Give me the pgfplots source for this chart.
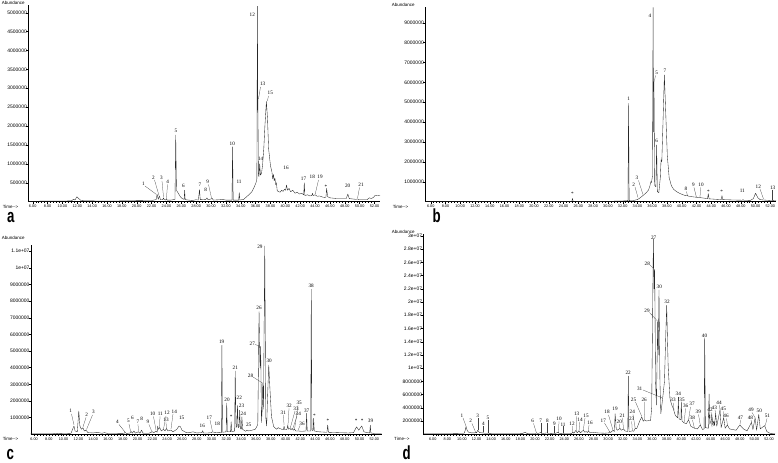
\documentclass[border=0pt]{standalone}
\usepackage{fontspec}
\setmainfont{Liberation Serif}
\newfontfamily\arial{Liberation Sans}
\usepackage{graphicx}
\usepackage{pgfplots}
\pgfplotsset{compat=1.18}

\pgfplotsset{
  chrom/.style={
    scale only axis, anchor=south west,
    axis x line=bottom, axis y line=left,
    axis line style={-, line width=0.4pt, black},
    xtick={6,8,...,52},
    minor x tick num=4,
    tick align=outside,
    major tick length=2bp, minor tick length=1.3bp,
    tick style={black, line width=0.3pt},
    xticklabel={\pgfmathprintnumber[fixed,fixed zerofill,precision=2,assume math mode=true]{\tick}},
    xticklabel style={font=\fontsize{3.8}{4}\arial, inner sep=1pt},
    yticklabel style={font=\fontsize{5}{5}\arial, inner sep=0.5pt, xshift=1.5bp},
    clip=false,
  },
  trace/.style={black!85, line width=0.35pt, line join=round},
}
\newcommand\pl[3]{\node[pl] at (#1,#2) {#3};}
\newcommand\ld[4]{\draw[ld] (#1,#2) -- (#3,#4);}

\begin{document}
\begin{tikzpicture}
\useasboundingbox (0,0) rectangle (778bp,463bp);

% ---- a ----
\begin{axis}[chrom, at={(28bp,261.4bp)}, width=352bp, height=196.6bp,
  xmin=5.37, xmax=52.74, ymin=0, ymax=5.204,
  ytick={0.5,1,...,5},
  yticklabels={500000,1000000,1500000,2000000,2500000,3000000,3500000,4000000,4500000,5000000}]
\addplot[trace] coordinates {
(5.37,0.01)(8,0.012)(10,0.015)(11.2,0.02)(11.5,0.06)(11.7,0.04)(11.95,0.13)(12.2,0.08)(12.5,0.03)(13,0.02)(16,0.015)(19,0.02)(20,0.025)(22,0.03)(22.6,0.05)(22.75,0.19)(22.9,0.06)(23.05,0.15)(23.2,0.05)(23.5,0.05)(23.6,0.1)(23.7,0.05)(23.9,0.04)(24.0,0.08)(24.1,0.04)(24.6,0.04)(25.15,0.06)(25.25,1.76)(25.35,0.3)(25.6,0.22)(25.9,0.12)(26.2,0.07)(26.38,0.06)(26.45,0.3)(26.52,0.05)(27.5,0.03)(28.0,0.05)(28.3,0.04)(28.45,0.32)(28.55,0.05)(29.3,0.06)(29.45,0.1)(29.6,0.05)(30.0,0.07)(30.15,0.09)(30.3,0.04)(31.2,0.05)(31.5,0.06)(32.0,0.04)(32.82,0.04)(32.9,1.45)(32.98,0.04)(33.72,0.04)(33.8,0.24)(33.88,0.04)(34.4,0.06)(34.8,0.13)(35.2,0.2)(35.5,0.26)(35.8,0.38)(36.05,0.5)(36.17,0.6)(36.24,5.17)(36.3,2.7)(36.38,0.7)(36.45,0.66)(36.55,1.0)(36.65,0.7)(36.8,0.75)(36.95,1.0)(37.1,1.4)(37.25,2.0)(37.45,2.65)(37.6,2.2)(37.75,1.4)(38.0,0.95)(38.2,0.78)(38.3,0.6)(38.4,0.72)(38.5,0.55)(38.6,0.62)(38.7,0.45)(38.8,0.5)(38.9,0.3)(39.0,0.27)(39.3,0.25)(39.5,0.3)(39.7,0.27)(39.9,0.33)(40.05,0.3)(40.15,0.44)(40.3,0.3)(40.5,0.35)(40.7,0.26)(41,0.3)(41.3,0.22)(41.6,0.25)(41.9,0.2)(42.2,0.22)(42.47,0.18)(42.55,0.5)(42.63,0.16)(43.0,0.18)(43.3,0.15)(43.57,0.16)(43.65,0.22)(43.75,0.16)(44.0,0.18)(44.3,0.14)(44.6,0.15)(45.0,0.12)(45.3,0.11)(45.47,0.12)(45.55,0.35)(45.7,0.13)(46.0,0.1)(47,0.08)(48.2,0.08)(48.4,0.2)(48.6,0.08)(49.5,0.06)(49.7,0.07)(49.9,0.05)(51.0,0.05)(51.3,0.1)(51.6,0.08)(51.9,0.12)(52.1,0.17)(52.4,0.16)(52.74,0.17)
};
\end{axis}

% ---- b ----
\begin{axis}[chrom, at={(425bp,261.4bp)}, width=351bp, height=194.6bp,
  xmin=5.23, xmax=52.77, ymin=0, ymax=9.79,
  ytick={1,...,9},
  yticklabels={1000000,2000000,3000000,4000000,5000000,6000000,7000000,8000000,9000000}]
\addplot[trace] coordinates {
(5.23,0.005)(25.0,0.01)(25.12,0.02)(25.2,0.16)(25.3,0.02)(26,0.01)(30,0.015)(32,0.03)(32.72,0.05)(32.8,4.94)(32.88,0.05)(33.5,0.06)(34.0,0.1)(34.4,0.2)(34.8,0.32)(35.2,0.45)(35.5,0.58)(35.7,0.8)(35.8,1.0)(35.9,0.95)(36.04,1.3)(36.12,9.77)(36.19,3.5)(36.24,6.03)(36.34,0.8)(36.5,0.75)(36.6,2.85)(36.7,0.5)(36.9,0.45)(37.1,1.2)(37.2,2.1)(37.3,2.0)(37.45,3.8)(37.65,6.37)(37.85,4.3)(38.05,2.3)(38.3,1.2)(38.6,0.8)(38.9,0.62)(39.3,0.5)(39.8,0.4)(40.5,0.3)(40.7,0.33)(40.85,0.28)(41.5,0.24)(42.0,0.22)(42.5,0.2)(43.5,0.15)(43.6,0.4)(43.7,0.14)(44.5,0.12)(45.35,0.1)(45.45,0.3)(45.55,0.1)(47,0.08)(48.2,0.07)(48.3,0.1)(48.4,0.07)(49.3,0.06)(49.7,0.15)(50.0,0.42)(50.3,0.2)(50.6,0.1)(51.1,0.08)(52.3,0.05)(52.77,0.04)
};
\end{axis}

% ---- c ----
\begin{axis}[chrom, at={(30.7bp,28.7bp)}, width=351bp, height=189.3bp,
  xmin=5.55, xmax=53.0, ymin=0, ymax=11.36,
  ytick={1,...,11},
  yticklabels={1000000,2000000,3000000,4000000,5000000,6000000,7000000,8000000,9000000,1e+07,1.1e+07}]
\addplot[trace] coordinates {
(5.55,0.03)(8.5,0.03)(9.1,0.06)(9.5,0.04)(10.4,0.05)(11.0,0.06)(11.3,0.4)(11.4,0.5)(11.55,0.2)(11.85,0.15)(12.05,1.4)(12.2,0.5)(12.4,0.3)(12.6,0.4)(12.8,0.2)(13.0,0.25)(13.3,0.1)(14,0.08)(14.5,0.12)(15.2,0.06)(15.5,0.1)(16,0.05)(17,0.05)(18.2,0.06)(18.3,0.12)(18.5,0.05)(19.0,0.08)(19.1,0.18)(19.3,0.07)(19.5,0.2)(19.7,0.07)(20.1,0.15)(20.3,0.06)(20.55,0.25)(20.7,0.07)(21.5,0.06)(22.0,0.15)(22.2,0.1)(22.5,0.2)(22.65,0.12)(22.72,0.5)(22.8,0.3)(23.0,0.4)(23.2,0.2)(23.5,0.3)(23.7,0.2)(23.9,0.35)(24.1,0.2)(24.5,0.25)(24.8,0.15)(25.3,0.3)(25.6,0.5)(25.8,0.45)(26.0,0.25)(26.5,0.12)(27.0,0.1)(27.5,0.15)(28.0,0.08)(28.7,0.1)(28.8,0.22)(28.9,0.08)(29.5,0.08)(30.0,0.1)(30.1,0.15)(30.5,0.1)(31.0,0.12)(31.32,0.1)(31.4,5.34)(31.48,0.12)(31.97,0.15)(32.05,1.88)(32.13,0.15)(32.57,0.15)(32.65,0.75)(32.73,0.15)(33.12,0.2)(33.2,3.8)(33.3,0.4)(33.42,0.5)(33.5,1.75)(33.6,0.4)(33.72,0.45)(33.8,1.45)(33.9,0.35)(34.02,0.3)(34.1,1.05)(34.2,0.3)(34.6,0.18)(34.8,0.25)(35.0,0.2)(35.5,0.25)(35.9,0.3)(36.1,0.45)(36.25,0.6)(36.42,7.36)(36.55,4.0)(36.64,5.25)(36.75,0.7)(36.85,1.5)(36.92,3.06)(37.02,1.5)(37.19,11.3)(37.33,1.0)(37.45,0.5)(37.55,2.0)(37.73,4.16)(37.9,2.66)(38.1,1.06)(38.4,0.46)(38.8,0.3)(39.0,0.4)(39.2,0.35)(39.5,0.3)(39.72,0.28)(39.8,0.5)(39.9,0.28)(40.2,0.3)(40.3,0.55)(40.4,0.3)(40.6,0.35)(40.75,0.28)(40.9,0.35)(41.05,0.25)(41.2,0.3)(41.4,0.2)(41.7,0.2)(42.2,0.18)(42.77,0.2)(42.85,1.26)(42.93,0.2)(43.4,0.2)(43.48,8.7)(43.56,0.25)(43.72,0.22)(43.8,0.96)(43.88,0.2)(44.5,0.15)(45.6,0.12)(45.7,0.56)(45.8,0.12)(47,0.1)(48.5,0.08)(49.2,0.1)(49.6,0.45)(49.9,0.25)(50.3,0.5)(50.6,0.15)(51.0,0.1)(51.38,0.08)(51.46,0.55)(51.54,0.08)(52.0,0.05)(53.0,0.05)
};
\end{axis}

% ---- d ----
\begin{axis}[chrom, at={(423.3bp,28.8bp)}, width=351.7bp, height=200.2bp,
  xmin=4.71, xmax=52.82, ymin=0, ymax=30.3,
  ytick={2,4,...,30},
  yticklabels={2000000,4000000,6000000,8000000,1e+07,1.2e+07,1.4e+07,1.6e+07,1.8e+07,2e+07,2.2e+07,2.4e+07,2.6e+07,2.8e+07,3e+07}]
\addplot[trace] coordinates {
(4.71,0.1)(8,0.1)(10.3,0.15)(10.45,0.6)(10.56,1.19)(10.7,0.6)(10.9,0.3)(11.3,0.2)(11.8,0.2)(11.9,0.3)(12.0,0.2)(12.15,0.6)(12.4,0.25)(12.8,0.18)(12.9,0.25)(13.0,0.15)(13.5,0.15)(13.6,0.2)(13.7,0.12)(16,0.1)(18.3,0.12)(18.6,0.3)(18.9,0.12)(20,0.1)(20.2,0.2)(20.4,0.1)(20.75,0.25)(20.9,0.1)(21.7,0.2)(21.8,0.1)(22.6,0.15)(22.7,0.1)(23.2,0.3)(23.3,0.1)(23.8,0.15)(23.9,0.1)(25.0,0.12)(25.15,0.3)(25.3,0.15)(25.6,0.6)(25.75,0.2)(26.0,0.5)(26.2,0.2)(26.6,0.6)(26.8,0.3)(27.0,0.4)(27.15,0.25)(27.3,0.5)(27.5,0.25)(27.8,0.3)(28.5,0.2)(29.5,0.15)(30.1,0.2)(30.2,0.4)(30.3,0.25)(30.7,0.6)(30.85,0.4)(30.95,3.1)(31.1,0.8)(31.3,0.6)(31.6,0.9)(31.8,0.6)(32.1,0.8)(32.3,0.5)(32.68,0.4)(32.76,8.8)(32.84,0.4)(33.3,0.5)(33.5,0.45)(33.7,0.9)(33.9,0.84)(34.35,2.1)(34.6,2.6)(34.8,1.95)(34.95,2.2)(35.2,2.0)(35.5,2.05)(35.8,2.1)(35.95,4)(36.18,29.6)(36.28,22.0)(36.36,24.8)(36.48,8)(36.6,4.4)(36.77,17)(36.85,12)(36.95,21.8)(37.08,8)(37.2,3.1)(37.45,5.4)(37.7,8)(37.85,14)(38.0,19.5)(38.2,10.4)(38.45,5.4)(38.7,4.4)(38.9,3.9)(39.0,3.5)(39.2,2.8)(39.5,2.5)(39.6,5.0)(39.7,2.3)(39.95,2.2)(40.0,4.9)(40.1,2.0)(40.4,1.7)(40.7,1.6)(41.0,2.2)(41.3,1.2)(41.8,0.9)(42.2,0.8)(42.6,1.4)(42.9,0.7)(43.12,0.8)(43.2,14.6)(43.3,1.0)(43.7,0.9)(43.8,6.1)(43.9,1.5)(44.2,2.5)(44.3,1.4)(44.45,2.0)(44.55,1.3)(44.7,3.2)(44.85,1.2)(45.3,3.7)(45.45,1.0)(45.8,2.5)(46.0,0.9)(46.3,1.4)(46.6,0.8)(47.5,0.6)(48.0,1.4)(48.5,0.8)(49.0,0.5)(49.6,1.8)(49.8,0.7)(50.1,2.5)(50.3,0.6)(50.6,3.0)(50.8,0.8)(51.4,1.3)(51.7,0.4)(52.2,0.1)(52.82,0.05)
};
\end{axis}

% ---- annotations, in picture pixels (y downward) ----
\begin{scope}[x=1bp,y=-1bp,yshift=463bp,
  pl/.style={font=\fontsize{5.2}{5.2}\selectfont, inner sep=0pt},
  ld/.style={line width=0.25pt, black!75},
  ax/.style={font=\fontsize{4.5}{4.5}\arial, inner sep=0pt, anchor=west},
  pn/.style={inner sep=0pt, anchor=base west}]
\node[ax] at (1.7,3) {Abundance};
\node[ax] at (391.7,4.5) {Abundance};
\node[ax] at (1.7,237.7) {Abundance};
\node[ax] at (391.7,231.6) {Abundance};
\node[ax] at (2.7,206.7) {Time-{}->};
\node[ax] at (392.7,206.7) {Time-{}->};
\node[ax] at (2.7,438.7) {Time-{}->};
\node[ax] at (394,438.7) {Time-{}->};
\node[pn] at (7,223) {\scalebox{0.7}[1]{\fontsize{19}{19}\arial\bfseries a}};
\node[pn] at (432.5,222.7) {\scalebox{0.7}[1]{\fontsize{19}{19}\arial\bfseries b}};
\node[pn] at (6.5,460) {\scalebox{0.7}[1]{\fontsize{19}{19}\arial\bfseries c}};
\node[pn] at (402.5,460) {\scalebox{0.7}[1]{\fontsize{19}{19}\arial\bfseries d}};

% a
\pl{143.3}{183.3}{1}\ld{145}{186}{156.5}{194.5}
\pl{153.3}{177.3}{2}\ld{154.5}{180}{159}{195.5}
\pl{161.3}{178.3}{3}\ld{162}{181}{163.5}{197}
\pl{167.7}{181.7}{4}\ld{167.5}{184.5}{166.5}{198}
\pl{176}{131}{5}
\pl{183.3}{185.7}{6}
\pl{200}{185}{7}
\pl{205.7}{189.8}{8}
\pl{207.7}{181.7}{9}\ld{208.5}{184.5}{211.5}{198}
\pl{232.3}{144.3}{10}
\pl{239}{181.7}{11}
\pl{252.3}{15}{12}
\pl{262.7}{84}{13}\ld{260.5}{87}{258.5}{99}
\pl{260.7}{159}{14}
\pl{270.3}{93.3}{15}\ld{268.5}{96}{267.3}{101}
\pl{286}{168.3}{16}
\pl{303.5}{179}{17}
\pl{312.3}{176.7}{18}
\pl{320}{177.3}{19}\ld{318.5}{180}{315.2}{194}
\pl{326}{187}{*}
\pl{347.7}{186.3}{20}
\pl{361}{184.8}{21}\ld{359.5}{187.5}{357.5}{198.5}

% b
\pl{572.3}{194.3}{*}
\pl{628.7}{99}{1}
\pl{633.7}{184.3}{2}\ld{635}{187}{638}{197.5}
\pl{637}{177.7}{3}\ld{638.5}{180.5}{643}{194.5}
\pl{650}{16}{4}
\pl{656.7}{72.7}{5}\ld{655.5}{75.5}{654.3}{81.5}
\pl{656.7}{141}{6}
\pl{665}{71}{7}
\pl{686}{189}{8}\ld{686.5}{191.5}{687.5}{196}
\pl{693.3}{185}{9}\ld{694}{187.5}{696.5}{197.5}
\pl{701}{185}{10}\ld{700.5}{187.5}{700}{197.5}
\pl{708.3}{191.7}{*}
\pl{721.7}{192.3}{*}
\pl{742.3}{190.7}{11}
\pl{758.3}{186.7}{12}\ld{760}{189}{763.5}{199}
\pl{772.7}{187.7}{13}\ld{772.5}{190}{772.5}{200}

% c
\pl{70.7}{411}{1}\ld{71.5}{414}{74}{425}
\pl{86.7}{414.7}{2}\ld{86}{417.5}{83}{427}
\pl{93.3}{412}{3}\ld{92.5}{415}{86.5}{429.5}
\pl{117.3}{422}{4}\ld{119}{424.5}{125}{432}
\pl{128.3}{421.3}{5}\ld{129}{424}{130.5}{431}
\pl{132.3}{417.7}{6}
\pl{138}{422}{7}\ld{138}{424.5}{138.5}{431.5}
\pl{141.7}{418.7}{8}
\pl{148}{422}{9}\ld{149}{424.5}{152}{432}
\pl{152.7}{413.7}{10}\ld{153.5}{416.5}{156}{430}
\pl{160.3}{413.7}{11}\ld{160}{416.5}{159.5}{428}
\pl{167}{413}{12}\ld{166}{416}{163.5}{429}
\pl{166}{420.3}{13}\ld{166}{422.5}{166.5}{429}
\pl{174.3}{411.3}{14}\ld{173}{414}{171}{429}
\pl{181.7}{417.7}{15}
\pl{202.3}{425.5}{16}
\pl{209.3}{417.3}{17}\ld{210}{420}{212.5}{431.5}
\pl{217.3}{423.5}{18}
\pl{221.7}{341.5}{19}
\pl{227}{400}{20}
\pl{231.2}{416.5}{*}
\pl{235.3}{367.5}{21}
\pl{239.3}{397.7}{22}
\pl{241.5}{406}{23}
\pl{243.3}{413.8}{24}
\pl{248.7}{424.5}{25}
\pl{259}{308}{26}
\pl{252.3}{344}{27}\ld{255}{344.5}{261}{346.5}
\pl{250.5}{376}{28}\ld{253}{377}{262.5}{383}
\pl{259.9}{246.5}{29}
\pl{269.2}{360.5}{30}
\pl{283.3}{412.7}{31}\ld{283.5}{415}{284}{425}
\pl{289.2}{405.8}{32}\ld{289}{408.5}{288}{425}
\pl{296}{408.5}{33}\ld{295}{411}{290}{429}
\pl{298.3}{413.8}{34}\ld{297}{416}{292.5}{429.5}
\pl{299.2}{403}{35}\ld{298}{405.5}{294.5}{429.5}
\pl{302}{423.7}{36}\ld{300}{425.5}{298}{430.5}
\pl{306.7}{410.8}{37}
\pl{311.2}{285.5}{38}
\pl{314.5}{415.5}{*}
\pl{328}{420.7}{*}
\pl{356.2}{420.7}{*}
\pl{362.2}{420.7}{*}
\pl{370.5}{421.3}{39}

% d
\pl{462}{415.3}{1}\ld{463}{418}{466}{426}
\pl{470.7}{421}{2}\ld{472}{423.5}{475.5}{432}
\pl{477.7}{416.3}{3}\ld{477.7}{418.5}{477.7}{430.5}
\pl{483.3}{423.7}{4}\ld{483.3}{426}{483.3}{432.5}
\pl{488}{417.7}{5}\ld{488}{420}{488}{433}
\pl{532.7}{421.3}{6}\ld{533.5}{423.5}{536.5}{433}
\pl{540.7}{420.7}{7}\ld{540.7}{423}{540.7}{433}
\pl{547.3}{421}{8}\ld{547.3}{423.3}{547.3}{433}
\pl{554.3}{423.7}{9}\ld{554.3}{426}{554.3}{433}
\pl{559}{419.3}{10}\ld{559}{421.5}{558.5}{432.2}
\pl{563}{424.3}{11}\ld{563}{426.5}{563}{433}
\pl{572}{423.7}{12}\ld{572.5}{426}{572.7}{432.2}
\pl{576.7}{414.3}{13}\ld{576.7}{416.5}{576.2}{430}
\pl{580}{419.7}{14}\ld{579.8}{422}{579}{431}
\pl{586}{415.7}{15}\ld{585}{418}{583.3}{430}
\pl{590}{422.7}{16}\ld{589}{425}{588.4}{431}
\pl{603.3}{420.7}{17}\ld{604.5}{423}{609.5}{431.5}
\pl{607}{412.3}{18}\ld{608.5}{415}{613}{430.2}
\pl{615}{409.3}{19}
\pl{619.3}{421.7}{20}\ld{619.5}{424}{619.9}{428.2}
\pl{622.3}{415.7}{21}\ld{622.5}{418}{623.5}{429}
\pl{628.2}{372.7}{22}
\pl{631.7}{419.3}{23}\ld{631.7}{421.5}{632.3}{430.9}
\pl{632.3}{412}{24}\ld{633}{414.5}{635.2}{428.3}
\pl{633.5}{399.7}{25}\ld{635.5}{402}{641.8}{416.5}
\pl{644.2}{399.7}{26}\ld{644.3}{402}{644.4}{419}
\pl{653.7}{238}{27}
\pl{647.3}{263.7}{28}\ld{650}{265}{655}{270}
\pl{647}{311.3}{29}\ld{649.5}{312.5}{657.9}{321.5}
\pl{659.3}{287}{30}
\pl{639.6}{389.3}{31}\ld{643}{390}{662.5}{398}
\pl{667}{302}{32}
\pl{673}{400}{33}\ld{673.5}{403}{674}{410.5}
\pl{678.3}{394.3}{34}\ld{678.3}{397}{678.3}{401}
\pl{682}{399.7}{35}
\pl{685.7}{406.2}{36}\ld{685.5}{408.5}{684.2}{422.5}
\pl{692}{404.3}{37}\ld{690.5}{407}{688.6}{419.5}
\pl{692.3}{417.7}{38}\ld{692.5}{420}{694.4}{428}
\pl{698.3}{412}{39}\ld{698.5}{414.5}{700.3}{425}
\pl{704.5}{336}{40}
\pl{710.7}{416.3}{41}\ld{711}{418.5}{712}{427}
\pl{710}{409.7}{42}\ld{711}{412}{713.5}{426}
\pl{714.3}{407.7}{43}\ld{715}{410}{715.6}{413}
\pl{719}{402.7}{44}\ld{719.5}{405}{720}{410}
\pl{723.3}{409.3}{45}\ld{723.5}{411.5}{723.7}{417.5}
\pl{726}{416.3}{46}\ld{726.5}{418.5}{727.4}{425}
\pl{740.4}{417.7}{47}\ld{740.5}{420}{740}{424.5}
\pl{750.4}{417.7}{48}\ld{751}{420}{751.5}{422}
\pl{751}{410.3}{49}\ld{752}{412.5}{755}{417.5}
\pl{759.3}{411}{50}
\pl{767.4}{416.3}{51}\ld{767}{418.5}{765.3}{425.5}
\end{scope}
\end{tikzpicture}
\end{document}
